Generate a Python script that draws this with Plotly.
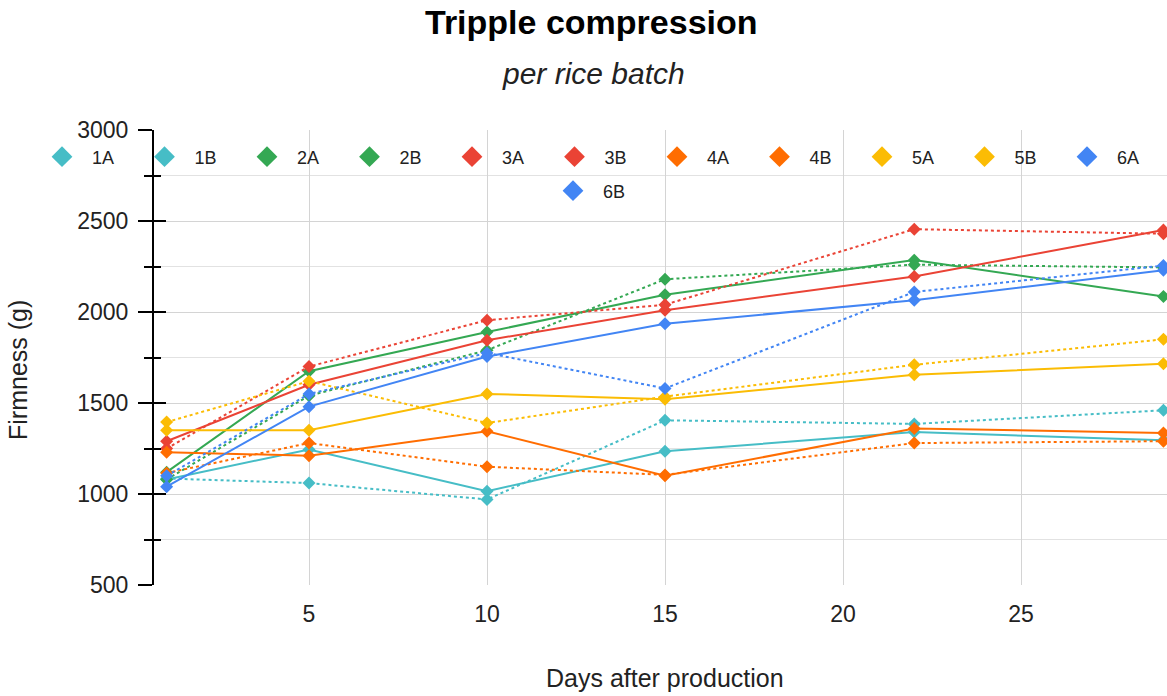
import plotly.graph_objects as go

# Days after production at which each batch was measured
days = [1, 5, 10, 15, 22, 29]

# Firmness (g) per rice batch, A and B samples
s1A = [1080, 1245, 1015, 1235, 1340, 1295]
s1B = [1085, 1060, 970, 1405, 1385, 1460]
s2A = [1120, 1675, 1890, 2095, 2285, 2085]
s2B = [1080, 1540, 1790, 2180, 2260, 2245]
s3A = [1290, 1600, 1845, 2010, 2195, 2450]
s3B = [1250, 1700, 1955, 2040, 2455, 2430]
s4A = [1230, 1210, 1345, 1100, 1360, 1335]
s4B = [1115, 1280, 1150, 1105, 1280, 1290]
s5A = [1350, 1350, 1550, 1520, 1655, 1715]
s5B = [1395, 1620, 1390, 1535, 1710, 1850]
s6A = [1040, 1480, 1755, 1935, 2065, 2230]
s6B = [1100, 1550, 1775, 1580, 2110, 2255]

series_names = ["1A", "1B", "2A", "2B", "3A", "3B", "4A", "4B", "5A", "5B", "6A", "6B"]
series_values = [s1A, s1B, s2A, s2B, s3A, s3B, s4A, s4B, s5A, s5B, s6A, s6B]

x_ticks = [5, 10, 15, 20, 25]
y_ticks = [500, 1000, 1500, 2000, 2500, 3000]

TEAL, GREEN, RED, ORANGE, YELLOW, BLUE = "#46BDC6", "#34A853", "#EA4335", "#FF6D01", "#FBBC04", "#4285F4"
series_colors = [TEAL, TEAL, GREEN, GREEN, RED, RED, ORANGE, ORANGE, YELLOW, YELLOW, BLUE, BLUE]

FONT = "Liberation Sans, Arial, sans-serif"
W, H = 1167, 696
L, T, B = 154, 130, 111
PH = H - T - B


def px_x(px):
    return px / W


def px_y(py):
    return (H - B - py) / PH


fig = go.Figure()

# data lines: solid for A samples, dotted for B samples
for name, vals, col in zip(series_names, series_values, series_colors):
    fig.add_trace(go.Scatter(
        x=days, y=vals, name=name, mode="lines+markers",
        line=dict(color=col, width=2, dash="dot" if name.endswith("B") else "solid"),
        marker=dict(symbol="diamond", size=10, color=col),
        showlegend=False,
    ))

# legend entries (diamond only), last one on a second centred row
for name, col in zip(series_names, series_colors):
    fig.add_trace(go.Scatter(
        x=[None], y=[None], name=name, mode="markers",
        marker=dict(symbol="diamond", size=16, color=col),
        showlegend=True,
        legend="legend2" if name == "6B" else "legend",
    ))

# overlay axis that carries the inner half of the y ticks
fig.add_trace(go.Scatter(x=[None], y=[None], yaxis="y2", showlegend=False))

fig.update_layout(
    width=W, height=H,
    margin=dict(l=0, r=0, t=T, b=B, pad=0),
    paper_bgcolor="white", plot_bgcolor="white",
    font=dict(family=FONT, color="#222222"),
    xaxis=dict(
        domain=[L / W, 1], range=[0.646, 29.1],
        tickvals=x_ticks, showgrid=True, gridcolor="#d4d4d4", gridwidth=1,
        zeroline=False, showline=False, ticks="",
        tickfont=dict(size=23, color="#222222"),
        ticklabelstandoff=13,
    ),
    yaxis=dict(
        range=[500, 3000], tickvals=y_ticks,
        showgrid=True, gridcolor="#d4d4d4", gridwidth=1, zeroline=False,
        showline=True, linecolor="black", linewidth=2,
        ticks="outside", ticklen=14, tickwidth=2, tickcolor="black",
        minor=dict(dtick=250, tick0=0, ticks="outside", ticklen=8, tickwidth=2,
                   tickcolor="black", showgrid=True, gridcolor="#e2e2e2", gridwidth=1),
        tickfont=dict(size=23, color="#222222"),
        ticklabelstandoff=5,
    ),
    yaxis2=dict(
        overlaying="y", anchor="x", side="left", range=[500, 3000], tickvals=y_ticks,
        showgrid=False, zeroline=False, showline=False, showticklabels=False,
        ticks="inside", ticklen=12, tickwidth=2, tickcolor="black",
        minor=dict(dtick=250, tick0=0, ticks="inside", ticklen=7, tickwidth=2,
                   tickcolor="black", showgrid=False),
    ),
    legend=dict(
        orientation="h", x=px_x(32), xanchor="left", y=px_y(157), yanchor="middle",
        bgcolor="rgba(255,255,255,0)", font=dict(size=18, color="#222222"),
        itemwidth=50, entrywidth=37.5, entrywidthmode="pixels", traceorder="normal",
        itemclick=False, itemdoubleclick=False,
    ),
    legend2=dict(
        orientation="h", x=px_x(543), xanchor="left", y=px_y(191), yanchor="middle",
        bgcolor="rgba(255,255,255,0)", font=dict(size=18, color="#222222"),
        itemwidth=50, itemclick=False, itemdoubleclick=False,
    ),
    annotations=[
        dict(text="<b>Tripple compression</b>", x=px_x(591), y=px_y(22), xref="paper", yref="paper",
             xanchor="center", yanchor="middle", showarrow=False,
             font=dict(family=FONT, size=34, color="#000000")),
        dict(text="<i>per rice batch</i>", x=px_x(593), y=px_y(73), xref="paper", yref="paper",
             xanchor="center", yanchor="middle", showarrow=False,
             font=dict(family=FONT, size=30, color="#222222")),
        dict(text="Days after production", x=px_x(665), y=px_y(678), xref="paper", yref="paper",
             xanchor="center", yanchor="middle", showarrow=False,
             font=dict(family=FONT, size=25, color="#222222")),
        dict(text="Firmness (g)", x=px_x(18), y=px_y(370), xref="paper", yref="paper",
             xanchor="center", yanchor="middle", textangle=-90, showarrow=False,
             font=dict(family=FONT, size=25, color="#222222")),
    ],
)

fig.write_html("out.html")
